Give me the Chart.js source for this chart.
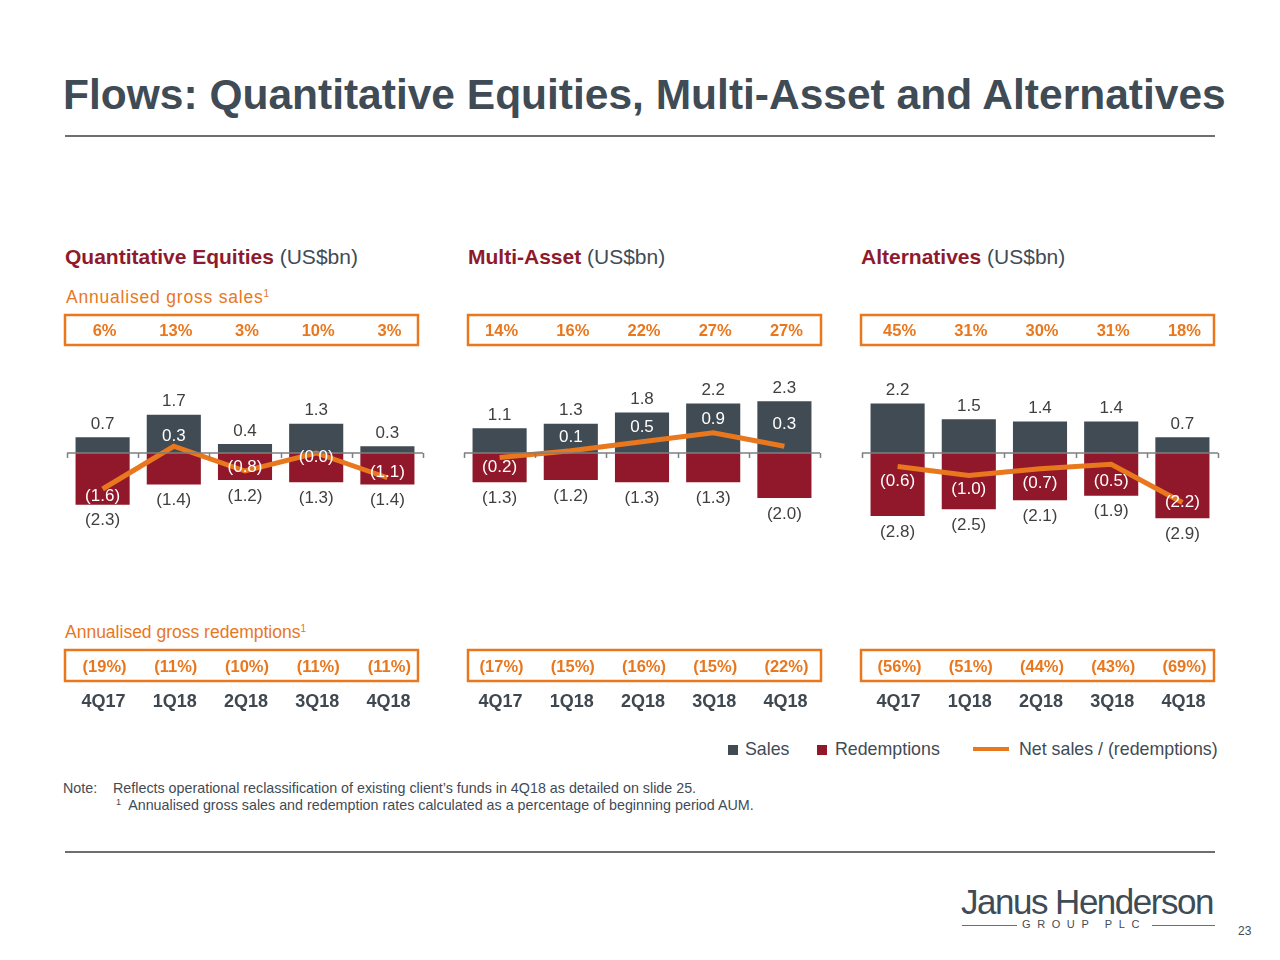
<!DOCTYPE html>
<html lang="en">
<head>
  <meta charset="UTF-8">
  <title>Flows: Quantitative Equities, Multi-Asset and Alternatives</title>
  <script src="https://cdn.jsdelivr.net/npm/chart.js@4"></script>
  <style>
    body {
      margin: 0;
      width: 1280px;
      height: 960px;
      background: #ffffff;
      font-family: 'Liberation Sans', Arial, sans-serif;
      position: relative;
      overflow: hidden;
    }
    .abs { position: absolute; white-space: nowrap; }
    h1 {
      position: absolute;
      left: 63px;
      top: 71px;
      margin: 0;
      font-size: 42.5px;
      font-weight: bold;
      color: #3f4b55;
    }
    .rule { position: absolute; left: 65px; width: 1150px; height: 2px; background: #6d6e70; }
    .heading { font-size: 21px; color: #3f4b55; top: 245px; }
    .heading b { color: #8e1a2c; }
    .sub { font-size: 17.5px; color: #e8771e; }
    .sub sup { font-size: 10px; vertical-align: 6px; }
    canvas.panel { position: absolute; top: 300px; }
    .legend { font-size: 17.8px; color: #3f4b55; top: 739px; }
    .note { font-size: 14.3px; color: #3f4b55; }
  </style>
</head>
<body>

  <h1>Flows: Quantitative Equities, Multi-Asset and Alternatives</h1>
  <div class="rule" style="top:135px"></div>

  <div class="abs heading" style="left:65px"><b>Quantitative Equities</b> (US$bn)</div>
  <div class="abs heading" style="left:468px"><b>Multi-Asset</b> (US$bn)</div>
  <div class="abs heading" style="left:861px"><b>Alternatives</b> (US$bn)</div>

  <div class="abs sub" style="left:66px; top:287px; letter-spacing:0.8px">Annualised gross sales<sup>1</sup></div>
  <div class="abs sub" style="left:65px; top:622px">Annualised gross redemptions<sup>1</sup></div>

  <canvas class="panel" id="qe" width="380" height="420" style="left:55px"></canvas>
  <canvas class="panel" id="ma" width="380" height="420" style="left:452px"></canvas>
  <canvas class="panel" id="alt" width="380" height="420" style="left:850px"></canvas>

  <div class="abs legend" style="left:728px">
    <span style="display:inline-block;width:10px;height:10px;background:#404b54;margin-right:7px"></span>Sales
  </div>
  <div class="abs legend" style="left:817px">
    <span style="display:inline-block;width:10px;height:10px;background:#91182a;margin-right:8px"></span>Redemptions
  </div>
  <div class="abs" style="left:973px; top:747px; width:36px; height:4px; background:#e8771e"></div>
  <div class="abs legend" style="left:1019px">Net sales / (redemptions)</div>

  <div class="abs note" style="left:63px; top:780px">Note:</div>
  <div class="abs note" style="left:113px; top:780px">Reflects operational reclassification of existing client’s funds in 4Q18 as detailed on slide 25.</div>
  <div class="abs note" style="left:116px; top:797px"><span style="font-size:9px;vertical-align:5px">1</span>&nbsp; Annualised gross sales and redemption rates calculated as a percentage of beginning period AUM.</div>

  <div class="rule" style="top:851px"></div>

  <div class="abs" style="left:961px; top:882px; font-size:35px; letter-spacing:-1.5px; color:#3f4b55">Janus Henderson</div>
  <div class="abs" style="left:962px; top:925px; width:55px; height:1px; background:#6d6e70"></div>
  <div class="abs" style="left:1022px; top:918px; font-size:11px; letter-spacing:6.6px; color:#3f4b55">GROUP PLC</div>
  <div class="abs" style="left:1152px; top:925px; width:63px; height:1px; background:#6d6e70"></div>
  <div class="abs" style="left:1238px; top:924px; font-size:12px; color:#3f4b55">23</div>

  <script>
    // Quarters
    const quarters = ['4Q17', '1Q18', '2Q18', '3Q18', '4Q18'];

    // Quantitative Equities (US$bn)
    const qeSales = [0.7, 1.7, 0.4, 1.3, 0.3];
    const qeRedemptions = [-2.3, -1.4, -1.2, -1.3, -1.4];
    const qeNet = [-1.6, 0.3, -0.8, -0.0, -1.1];
    const qeSalesRate = ['6%', '13%', '3%', '10%', '3%'];
    const qeRedemptionRate = ['(19%)', '(11%)', '(10%)', '(11%)', '(11%)'];

    // Multi-Asset (US$bn)
    const maSales = [1.1, 1.3, 1.8, 2.2, 2.3];
    const maRedemptions = [-1.3, -1.2, -1.3, -1.3, -2.0];
    const maNet = [-0.2, 0.1, 0.5, 0.9, 0.3];
    const maSalesRate = ['14%', '16%', '22%', '27%', '27%'];
    const maRedemptionRate = ['(17%)', '(15%)', '(16%)', '(15%)', '(22%)'];

    // Alternatives (US$bn)
    const altSales = [2.2, 1.5, 1.4, 1.4, 0.7];
    const altRedemptions = [-2.8, -2.5, -2.1, -1.9, -2.9];
    const altNet = [-0.6, -1.0, -0.7, -0.5, -2.2];
    const altSalesRate = ['45%', '31%', '30%', '31%', '18%'];
    const altRedemptionRate = ['(56%)', '(51%)', '(44%)', '(43%)', '(69%)'];

    const SALES = '#404b54';
    const REDEMPTIONS = '#91182a';
    const ORANGE = '#e8771e';
    const TEXT = '#3f3f3f';

    function fmt(v) {
      const s = Math.abs(v).toFixed(1);
      return (v < 0 || Object.is(v, -0)) ? '(' + s + ')' : s;
    }

    // draws the zero axis, value labels, rate boxes and quarter labels
    const panelDecor = {
      id: 'panelDecor',
      afterDatasetsDraw(chart, args, opts) {
        const ctx = chart.ctx;
        const area = chart.chartArea;
        const x = chart.scales.x;
        const y = chart.scales.y;
        const zero = y.getPixelForValue(0);
        const step = (area.right - area.left) / quarters.length;

        ctx.save();
        // zero line with category ticks
        ctx.strokeStyle = '#7f7f7f';
        ctx.lineWidth = 1.5;
        ctx.beginPath();
        ctx.moveTo(area.left, zero);
        ctx.lineTo(area.right, zero);
        for (let i = 0; i <= quarters.length; i++) {
          const tx = Math.round(area.left + i * step) + 0.5;
          ctx.moveTo(tx, zero);
          ctx.lineTo(tx, zero + 5);
        }
        ctx.stroke();

        ctx.textAlign = 'center';
        ctx.textBaseline = 'middle';
        ctx.font = '17px "Liberation Sans", Arial, sans-serif';

        const sales = chart.data.datasets[1].data;
        const reds = chart.data.datasets[2].data;
        const net = chart.data.datasets[0].data;
        quarters.forEach((q, i) => {
          const cx = x.getPixelForValue(i);
          ctx.fillStyle = TEXT;
          ctx.fillText(fmt(sales[i]), cx, y.getPixelForValue(sales[i]) - 13);
          ctx.fillText(fmt(reds[i]), cx, y.getPixelForValue(reds[i]) + 16);
          ctx.fillStyle = '#ffffff';
          ctx.fillText(fmt(net[i]), cx, y.getPixelForValue(net[i]) + opts.netShift[i]);
        });

        // rate boxes
        ctx.strokeStyle = ORANGE;
        ctx.lineWidth = 2.5;
        ctx.strokeRect(opts.boxLeft, 15, opts.boxWidth, 30);
        ctx.strokeRect(opts.boxLeft, 350, opts.boxWidth, 31);
        ctx.fillStyle = ORANGE;
        ctx.font = 'bold 16.5px "Liberation Sans", Arial, sans-serif';
        quarters.forEach((q, i) => {
          const cx = x.getPixelForValue(i);
          ctx.fillText(opts.salesRate[i], cx + 2, 31);
          ctx.fillText(opts.redemptionRate[i], cx + 2, 367);
        });

        // quarter labels
        ctx.fillStyle = '#3f4850';
        ctx.font = 'bold 18px "Liberation Sans", Arial, sans-serif';
        quarters.forEach((q, i) => {
          ctx.fillText(q, x.getPixelForValue(i) + 1, 402);
        });
        ctx.restore();
      }
    };

    function makePanel(id, sales, redemptions, net, salesRate, redemptionRate, netShift, boxLeft, boxWidth) {
      new Chart(document.getElementById(id), {
        type: 'bar',
        data: {
          labels: quarters,
          datasets: [
            {
              type: 'line',
              label: 'Net sales / (redemptions)',
              data: net,
              borderColor: ORANGE,
              borderWidth: 5,
              pointRadius: 0,
              tension: 0,
              stack: 'net',
              order: 0
            },
            {
              label: 'Sales',
              data: sales,
              backgroundColor: SALES,
              stack: 'flows',
              order: 1
            },
            {
              label: 'Redemptions',
              data: redemptions,
              backgroundColor: REDEMPTIONS,
              stack: 'flows',
              order: 1
            }
          ]
        },
        options: {
          responsive: false,
          animation: false,
          layout: { padding: { left: 12, right: 12, top: 63, bottom: 177 } },
          datasets: { bar: { categoryPercentage: 1, barPercentage: 0.76 } },
          scales: {
            x: { display: false, stacked: true },
            y: { display: false, stacked: true, min: -4, max: 4 }
          },
          plugins: {
            legend: { display: false },
            tooltip: { enabled: false },
            panelDecor: { netShift, salesRate, redemptionRate, boxLeft, boxWidth }
          }
        },
        plugins: [panelDecor]
      });
    }

    makePanel('qe', qeSales, qeRedemptions, qeNet, qeSalesRate, qeRedemptionRate,
      [7, -10, -4, 4, -5], 10, 353);
    makePanel('ma', maSales, maRedemptions, maNet, maSalesRate, maRedemptionRate,
      [10, -13, -14, -13, -22], 16, 353);
    makePanel('alt', altSales, altRedemptions, altNet, altSalesRate, altRedemptionRate,
      [15, 14, 15, 17, 0], 11, 353);
  </script>

</body>
</html>
